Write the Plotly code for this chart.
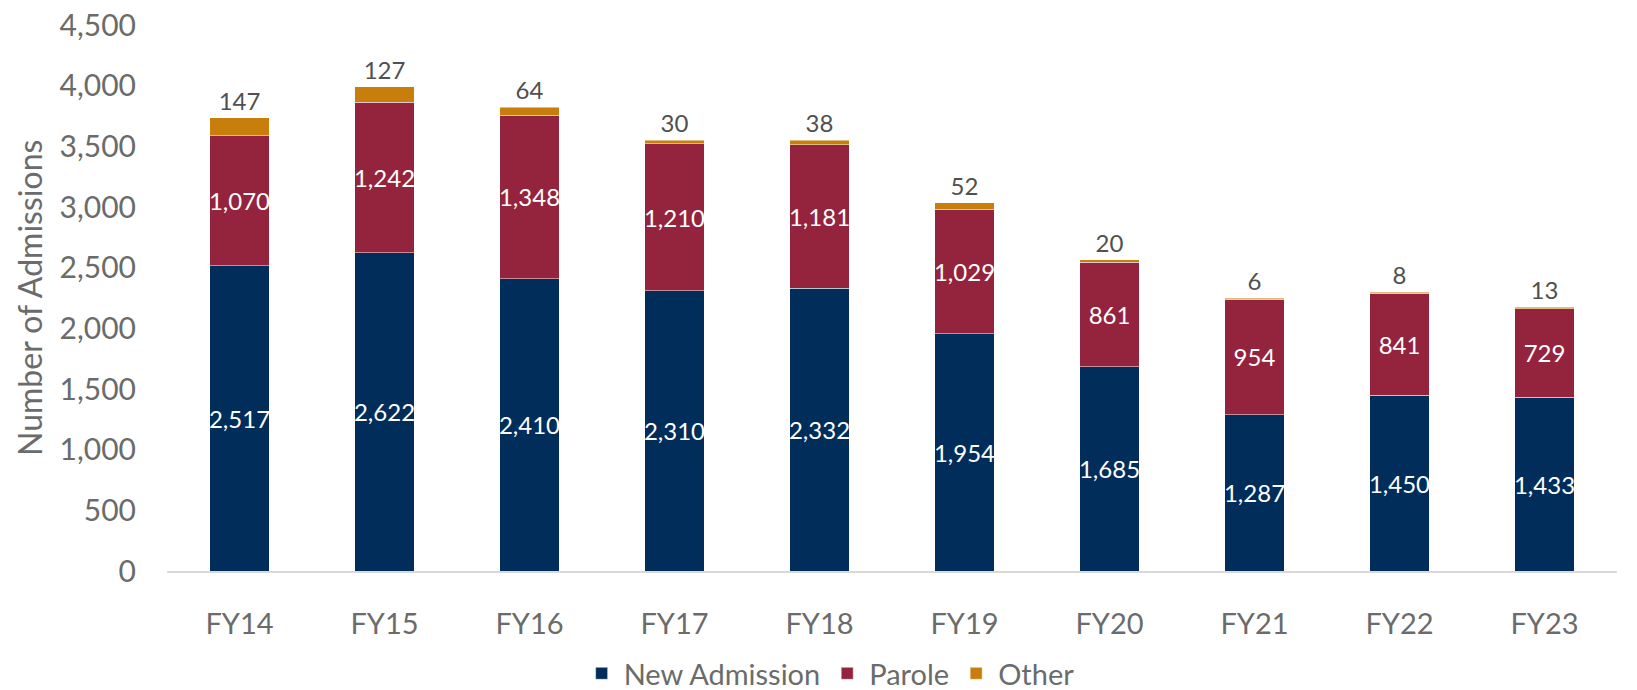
import plotly.graph_objects as go

# Datos
years = ["FY14", "FY15", "FY16", "FY17", "FY18", "FY19", "FY20", "FY21", "FY22", "FY23"]
new_admission = [2517, 2622, 2410, 2310, 2332, 1954, 1685, 1287, 1450, 1433]
parole = [1070, 1242, 1348, 1210, 1181, 1029, 861, 954, 841, 729]
other = [147, 127, 64, 30, 38, 52, 20, 6, 8, 13]

NAVY = "#012D5A"
MAROON = "#94233E"
GOLD = "#C87E0A"
GRAY = "#6B6B6B"
FONT = "Lato, 'Open Sans', sans-serif"

fig = go.Figure()

series = [
    ("New Admission", new_admission, NAVY, "inside", "white"),
    ("Parole", parole, MAROON, "inside", "white"),
    ("Other", other, GOLD, "outside", "#505050"),
]
for name, vals, color, pos, tcol in series:
    fig.add_trace(go.Bar(
        x=years,
        y=vals,
        name=name,
        marker=dict(color=color, line=dict(color="rgba(255,255,255,0.6)", width=0.8)),
        text=[f"{v:,}" for v in vals],
        textposition=pos,
        textangle=0,
        insidetextanchor="middle",
        constraintext="none",
        cliponaxis=False,
        textfont=dict(color=tcol, size=24, family=FONT),
    ))

fig.update_layout(
    barmode="stack",
    bargap=0.59,
    width=1637,
    height=690,
    margin=dict(l=167, r=20, t=25, b=119, autoexpand=False),
    plot_bgcolor="white",
    paper_bgcolor="white",
    font=dict(family=FONT, color=GRAY),
    legend=dict(
        orientation="h",
        x=0.457, xanchor="center",
        yref="container",
        y=0.024, yanchor="middle",
        font=dict(size=29, color=GRAY),
        itemwidth=34,
        traceorder="normal",
    ),
    annotations=[dict(
        text="Number of Admissions",
        textangle=-90,
        xref="paper", yref="paper",
        x=-0.0952, y=0.5,
        xanchor="center", yanchor="middle",
        showarrow=False,
        font=dict(size=32, color=GRAY),
    )],
)

fig.update_yaxes(
    range=[0, 4500],
    dtick=500,
    tickformat=",",
    showgrid=False,
    zeroline=False,
    automargin=False,
    tickfont=dict(size=30, color=GRAY),
    ticklabelstandoff=30,
)
fig.update_xaxes(
    showline=True,
    linecolor="#D9D9D9",
    linewidth=1.5,
    automargin=False,
    tickfont=dict(size=29, color=GRAY),
    ticklabelstandoff=26,
)

fig.write_html(
    "out.html",
    config={"displayModeBar": False},
    post_script="document.body.style.margin='0';",
)
